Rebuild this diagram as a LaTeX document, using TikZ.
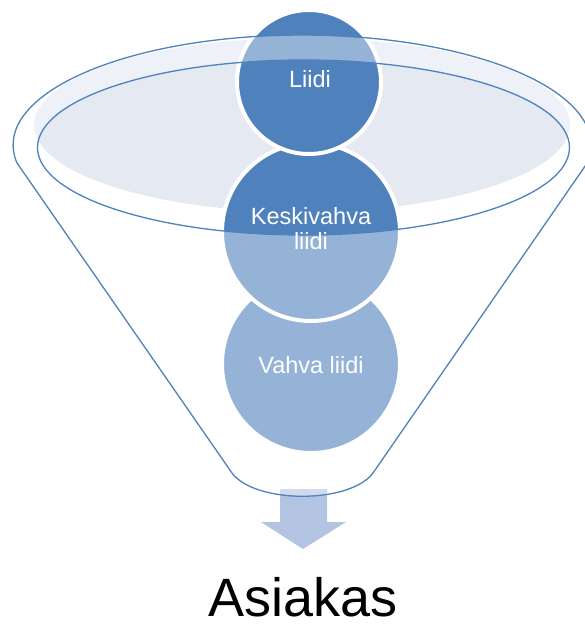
\documentclass[tikz,border=0pt]{standalone}
\usepackage{fontspec}
\setmainfont{Liberation Sans}
\definecolor{funnelblue}{RGB}{79,129,189}
\definecolor{surface}{RGB}{228,233,242}
\definecolor{arrowblue}{RGB}{178,196,226}

\begin{document}
\begin{tikzpicture}[x=1pt,y=-1pt,
	stage/.style={circle, draw=white, line width=4pt, fill=funnelblue, inner sep=0pt},
	stagetext/.style={text=white, font=\fontsize{23.5}{25}\selectfont, inner sep=0pt, align=center},
	rim/.style={draw=funnelblue, line width=1.3pt}]

	\useasboundingbox (0,0) rectangle (584,624);

	% top surface of the funnel
	\fill[surface]	(302,125)	ellipse	[x radius=268, y radius=87];

	% arrow out of the funnel
	\fill[arrowblue]	(280,489) -- (327,489) -- (327,522) -- (346,522) -- (303,549) -- (261,522) -- (280,522) -- cycle;

	\node 	(vahva)		at	(311,364) 	[stage, minimum size=178pt]{};
	\node 	(keski)		at	(311,232) 	[stage, minimum size=178pt]{};
	\node 	(liidi)		at	(309,82) 	[stage, minimum size=144pt]{};

	% funnel body, see-through
	\fill[white, fill opacity=0.4, even odd rule]
		(17,163) arc[start angle=170.6, end angle=369.4, x radius=289, y radius=110]
		-- (373,473) .. controls (350,504) and (255,504) .. (232,473) -- cycle
		(303.5,147.5) ellipse [x radius=266, y radius=87.5];

	\draw[rim]	(17,163) arc[start angle=170.6, end angle=369.4, x radius=289, y radius=110]
		-- (373,473) .. controls (350,504) and (255,504) .. (232,473) -- cycle;
	\draw[rim]	(303.5,147.5) ellipse [x radius=266, y radius=87.5];

	\node 	(tliidi)	at	(310,87) 	[stagetext, anchor=base]{Liidi};
	\node 	(tkeski)	at	(311,229) 	[stagetext]{Keskivahva\\liidi};
	\node 	(tvahva)	at	(311,373) 	[stagetext, anchor=base]{Vahva liidi};

	\node 	(asiakas)	at	(303,616) 	[anchor=base, inner sep=0pt, font=\fontsize{54}{60}\selectfont]{Asiakas};

\end{tikzpicture}
\end{document}
